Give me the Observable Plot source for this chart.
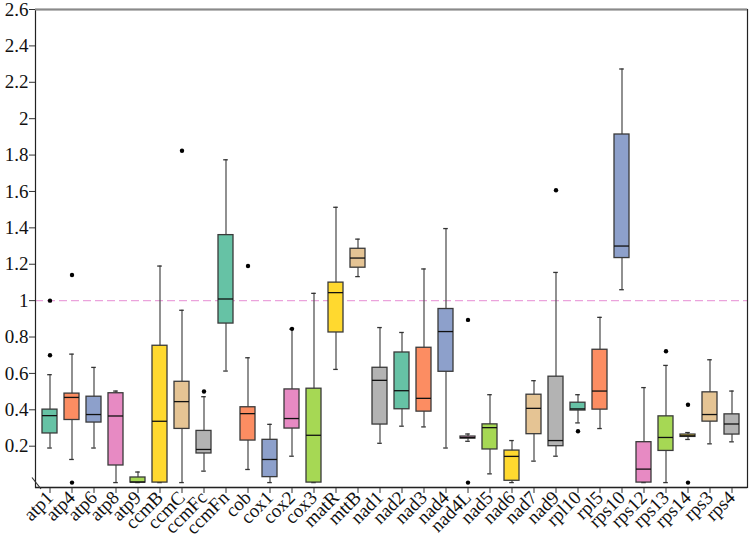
<!DOCTYPE html>
<html>
<head>
<meta charset="utf-8">
<script src="https://cdn.jsdelivr.net/npm/d3@7"></script>
<script src="https://cdn.jsdelivr.net/npm/@observablehq/plot@0.6"></script>
<style>
  html, body { margin: 0; padding: 0; background: #fff; }
  #chart svg { display: block; }
  #chart svg text { font-size: 19px; }
</style>
</head>
<body>
<div id="chart"></div>
<script>
const genes = ["atp1","atp4","atp6","atp8","atp9","ccmB","ccmC","ccmFc","ccmFn","cob","cox1","cox2","cox3","matR","mttB","nad1","nad2","nad3","nad4","nad4L","nad5","nad6","nad7","nad9","rpl10","rpl5","rps10","rps12","rps13","rps14","rps3","rps4"];
const q1      = [0.27,0.344,0.33,0.094,0.0,0.0,0.295,0.16,0.874,0.231,0.03,0.297,0.0,0.825,1.181,0.319,0.403,0.39,0.609,0.242,0.182,0.01,0.266,0.2,0.396,0.401,1.234,0.0,0.174,0.251,0.335,0.264];
const median  = [0.368,0.468,0.374,0.366,0.003,0.337,0.445,0.182,1.009,0.379,0.127,0.352,0.26,1.044,1.234,0.562,0.505,0.463,0.83,0.247,0.302,0.144,0.408,0.231,0.405,0.503,1.3,0.074,0.248,0.257,0.374,0.322];
const q3      = [0.401,0.489,0.472,0.491,0.028,0.752,0.554,0.284,1.36,0.414,0.235,0.512,0.516,1.099,1.285,0.631,0.715,0.741,0.954,0.253,0.32,0.176,0.483,0.582,0.439,0.73,1.913,0.222,0.364,0.264,0.496,0.375];
const whiskerLow  = [0.19,0.127,0.19,0.0,0.0,0.0,0.0,0.063,0.613,0.072,0.0,0.145,0.0,0.622,1.132,0.216,0.31,0.306,0.19,0.227,0.048,0.0,0.118,0.145,0.328,0.297,1.06,0.0,0.0,0.237,0.213,0.224];
const whiskerHigh = [0.593,0.706,0.633,0.503,0.058,1.19,0.947,0.472,1.774,0.686,0.32,0.843,1.04,1.513,1.338,0.852,0.825,1.174,1.396,0.267,0.483,0.231,0.56,1.155,0.483,0.908,2.273,0.522,0.644,0.275,0.675,0.503];
const outlierGene  = ["atp1","atp1","atp4","atp4","ccmC","ccmFc","cob","cox2","nad4L","nad4L","nad9","rpl10","rps13","rps14","rps14"];
const outlierValue = [0.70,1.00,1.141,0.0,1.824,0.501,1.19,0.845,0.894,0.0,1.607,0.282,0.722,0.428,0.0];
const yTicks = [0.2,0.4,0.6,0.8,1,1.2,1.4,1.6,1.8,2,2.2,2.4,2.6];
const yDomain = [-0.027, 2.6];
const refLine = [1];

const palette = ["#66c2a5","#fc8d62","#8da0cb","#e78ac3","#a6d854","#ffd92f","#e5c494","#b3b3b3"];
const boxes = genes.map((g, i) => ({gene: g, q1: q1[i], med: median[i], q3: q3[i], lo: whiskerLow[i], hi: whiskerHigh[i]}));
const outliers = outlierGene.map((g, i) => ({gene: g, v: outlierValue[i]}));

const plot = Plot.plot({
  width: 749,
  height: 541,
  marginLeft: 35,
  marginRight: 2,
  marginTop: 9,
  marginBottom: 54,
  style: {fontFamily: "'Liberation Serif', 'Times New Roman', serif", fontSize: "19px", color: "#111", background: "#fff"},
  x: {domain: genes, paddingInner: 0.3, paddingOuter: 0.295, label: null},
  y: {domain: yDomain, label: null},
  color: {domain: genes, range: genes.map((g, i) => palette[i % palette.length])},
  marks: [
    Plot.ruleY(refLine, {stroke: "#eba3dc", strokeWidth: 1.2, strokeDasharray: "8,4"}),
    Plot.ruleX(boxes, {x: "gene", y1: "lo", y2: "hi", stroke: "#555", strokeWidth: 1.3}),
    Plot.tickY(boxes, {x: "gene", y: "hi", stroke: "#333", strokeWidth: 1.3, insetLeft: 5.2, insetRight: 5.2}),
    Plot.tickY(boxes, {x: "gene", y: "lo", stroke: "#333", strokeWidth: 1.3, insetLeft: 5.2, insetRight: 5.2}),
    Plot.barY(boxes, {x: "gene", y1: "q1", y2: "q3", fill: "gene", stroke: "#3a3a3a", strokeWidth: 1.3}),
    Plot.tickY(boxes, {x: "gene", y: "med", stroke: "#111", strokeWidth: 1.3}),
    Plot.dot(outliers, {x: "gene", y: "v", r: 2.2, fill: "#000", stroke: "none"}),
    Plot.axisY({ticks: yTicks, tickFormat: d => String(+d.toFixed(1)), tickSize: 6, tickPadding: 1, stroke: "#333", fill: "#111", fontSize: 19}),
    Plot.axisX({tickRotate: -45, tickSize: 6, tickPadding: 1, stroke: "#333", fill: "#111", fontSize: 19}),
    Plot.ruleY([yDomain[0]], {stroke: "#555", strokeWidth: 1.5}),
    Plot.frame({stroke: "#222", strokeWidth: 1.2}),
    Plot.ruleY([yDomain[1]], {stroke: "#8a8a8a", strokeWidth: 2})
  ]
});

// axis break mark at bottom-left
const ys = plot.scale("y");
const y0 = ys.apply(yDomain[0]);
d3.select(plot).append("line")
  .attr("x1", 35 - 3).attr("y1", y0 - 9.5)
  .attr("x2", 35 + 6).attr("y2", y0 + 2)
  .attr("stroke", "#333").attr("stroke-width", 1.2);

document.getElementById("chart").append(plot);
</script>
</body>
</html>
